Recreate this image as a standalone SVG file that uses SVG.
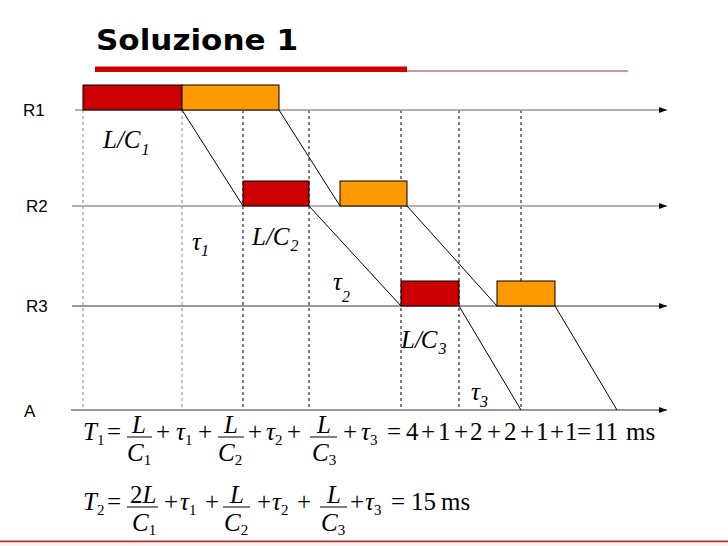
<svg xmlns="http://www.w3.org/2000/svg" width="728" height="546" viewBox="0 0 728 546">
<style>
.title{font-family:"DejaVu Sans","Liberation Sans",sans-serif;font-weight:bold;font-size:29px;fill:#000}
.lbl{font-family:"Liberation Sans",Arial,sans-serif;font-size:17px;fill:#000}
.mi{font-family:"Liberation Serif","Times New Roman",serif;font-style:italic;font-size:25px;fill:#000}
.mn{font-family:"Liberation Serif","Times New Roman",serif;font-size:25px;fill:#000}
.ms{font-family:"Liberation Serif","Times New Roman",serif;font-style:italic;font-size:16px}
.sub{font-family:"Liberation Serif","Times New Roman",serif;font-style:normal;font-size:15px}
.red{fill:#cc0000;stroke:#000;stroke-width:1}
.org{fill:#ff9900;stroke:#000;stroke-width:1}
.gdash{stroke:#999;stroke-width:1.2;stroke-dasharray:3,3;fill:none}
.kdash{stroke:#000;stroke-width:1;stroke-dasharray:3,3;fill:none}
.diag{stroke:#000;stroke-width:1;fill:none}
.bar{stroke:#000;stroke-width:1}
</style>
<defs>
<marker id="arr" markerUnits="userSpaceOnUse" markerWidth="8" markerHeight="6" refX="8" refY="3" orient="auto">
<path d="M0,0 L8,3 L0,6 z" fill="#000"/>
</marker>
</defs>
<rect width="728" height="546" fill="#fff"/>
<g id="title">
<text class="title" x="96" y="50" textLength="202" lengthAdjust="spacingAndGlyphs">Soluzione 1</text>
<rect x="95" y="66.5" width="312" height="5.5" fill="#cc0000"/>
<line x1="407" y1="71" x2="628" y2="71" stroke="#a52a2a" stroke-width="1.2"/>
</g>
<g id="footer">
<line x1="0" y1="541.5" x2="728" y2="541.5" stroke="#b03030" stroke-width="2"/>
<rect x="0" y="542.5" width="728" height="3.5" fill="#fbf1f1"/>
</g>
<g id="dashed">
<line class="gdash" x1="83" y1="110" x2="83" y2="409"/>
<line class="gdash" x1="182" y1="110" x2="182" y2="409"/>
<line class="kdash" x1="243" y1="110" x2="243" y2="410"/>
<line class="kdash" x1="309" y1="110" x2="309" y2="410"/>
<line class="kdash" x1="401" y1="110" x2="401" y2="410"/>
<line class="kdash" x1="459" y1="110" x2="459" y2="410"/>
<line class="kdash" x1="521" y1="110" x2="521" y2="410"/>
</g>
<g id="rows">
<g id="R1"><text class="lbl" x="23" y="116">R1</text><line x1="75" y1="110" x2="667" y2="110" stroke="#999" stroke-width="1.5" marker-end="url(#arr)"/></g>
<g id="R2"><text class="lbl" x="26" y="212">R2</text><line x1="72" y1="206" x2="667" y2="206" stroke="#999" stroke-width="1.5" marker-end="url(#arr)"/></g>
<g id="R3"><text class="lbl" x="26" y="312">R3</text><line x1="72" y1="306" x2="667" y2="306" stroke="#333" stroke-width="1.2" marker-end="url(#arr)"/></g>
<g id="A"><text class="lbl" x="24" y="417">A</text><line x1="71" y1="410" x2="667" y2="410" stroke="#333" stroke-width="1.2" marker-end="url(#arr)"/></g>
</g>
<g id="connectors">
<line class="diag" x1="182" y1="110" x2="243" y2="206"/>
<line class="diag" x1="279" y1="110" x2="340" y2="206"/>
<line class="diag" x1="309" y1="206" x2="401" y2="306"/>
<line class="diag" x1="407" y1="206" x2="497" y2="306"/>
<line class="diag" x1="459" y1="306" x2="521" y2="410"/>
<line class="diag" x1="555" y1="306" x2="617" y2="410"/>
</g>
<g id="packets">
<rect id="p1r1" class="red" x="83" y="85" width="99" height="25"/>
<rect id="p2r1" class="org" x="182" y="85" width="97" height="25"/>
<rect id="p1r2" class="red" x="243" y="181" width="66" height="25"/>
<rect id="p2r2" class="org" x="340" y="181" width="67" height="25"/>
<rect id="p1r3" class="red" x="401" y="281" width="58" height="25"/>
<rect id="p2r3" class="org" x="497" y="281" width="58" height="25"/>
</g>
<g id="labels">
<text id="lc1" class="mi" x="103" y="148">L<tspan dx="0">/</tspan><tspan dx="0">C</tspan><tspan class="ms" dx="1" dy="7">1</tspan></text>
<text id="tau1" class="mi" x="192" y="250">τ<tspan class="ms" dx="0" dy="6">1</tspan></text>
<text id="lc2" class="mi" x="252" y="245">L<tspan dx="0">/</tspan><tspan dx="0">C</tspan><tspan class="ms" dx="1" dy="6">2</tspan></text>
<text id="tau2" class="mi" x="333" y="290">τ<tspan class="ms" dx="0" dy="12">2</tspan></text>
<text id="lc3" class="mi" x="401" y="348">L<tspan dx="0">/</tspan><tspan dx="-1">C</tspan><tspan class="ms" dx="1" dy="6">3</tspan></text>
<text id="tau3" class="mi" x="471" y="400">τ<tspan class="ms" dx="0" dy="7">3</tspan></text>
</g>
<g id="formula1">
<text class="mi" x="83" y="440">T<tspan class="sub" dx="0" dy="5">1</tspan></text>
<text class="mn" x="107" y="440">=</text>
<text class="mi" x="139" y="433" text-anchor="middle">L</text><line class="bar" x1="127" y1="437" x2="152" y2="437"/><text class="mi" x="127" y="461">C<tspan class="sub" dx="0" dy="4">1</tspan></text>
<text class="mn" x="156" y="440">+</text>
<text class="mi" x="176" y="440">τ<tspan class="sub" dx="0" dy="5">1</tspan></text>
<text class="mn" x="198" y="440">+</text>
<text class="mi" x="231" y="433" text-anchor="middle">L</text><line class="bar" x1="218" y1="437" x2="244" y2="437"/><text class="mi" x="218" y="461">C<tspan class="sub" dx="0" dy="4">2</tspan></text>
<text class="mn" x="248" y="440">+</text>
<text class="mi" x="266" y="440">τ<tspan class="sub" dx="0" dy="5">2</tspan></text>
<text class="mn" x="287" y="440">+</text>
<text class="mi" x="324" y="433" text-anchor="middle">L</text><line class="bar" x1="310" y1="437" x2="337" y2="437"/><text class="mi" x="312" y="461">C<tspan class="sub" dx="0" dy="4">3</tspan></text>
<text class="mn" x="343" y="440">+</text>
<text class="mi" x="361" y="440">τ<tspan class="sub" dx="0" dy="5">3</tspan></text>
<text class="mn" x="387" y="440">=</text>
<text class="mn" x="406" y="440">4</text>
<text class="mn" x="421" y="440">+</text>
<text class="mn" x="438" y="440">1</text>
<text class="mn" x="454" y="440">+</text>
<text class="mn" x="470" y="440">2</text>
<text class="mn" x="487" y="440">+</text>
<text class="mn" x="504" y="440">2</text>
<text class="mn" x="520" y="440">+</text>
<text class="mn" x="536" y="440">1</text>
<text class="mn" x="550" y="440">+</text>
<text class="mn" x="565" y="440">1</text>
<text class="mn" x="577" y="440">=</text>
<text class="mn" x="594" y="440">11</text>
<text class="mn" x="626" y="440">ms</text>
</g>
<g id="formula2">
<text class="mi" x="83" y="510">T<tspan class="sub" dx="0" dy="5">2</tspan></text>
<text class="mn" x="107" y="510">=</text>
<text class="mn" x="130" y="503">2<tspan class="mi" dx="0">L</tspan></text><line class="bar" x1="127" y1="507" x2="158" y2="507"/><text class="mi" x="132" y="531">C<tspan class="sub" dx="0" dy="4">1</tspan></text>
<text class="mn" x="164" y="510">+</text>
<text class="mi" x="180" y="510">τ<tspan class="sub" dx="0" dy="5">1</tspan></text>
<text class="mn" x="205" y="510">+</text>
<text class="mi" x="237" y="503" text-anchor="middle">L</text><line class="bar" x1="223" y1="507" x2="250" y2="507"/><text class="mi" x="224" y="531">C<tspan class="sub" dx="0" dy="4">2</tspan></text>
<text class="mn" x="257" y="510">+</text>
<text class="mi" x="272" y="510">τ<tspan class="sub" dx="0" dy="5">2</tspan></text>
<text class="mn" x="297" y="510">+</text>
<text class="mi" x="334" y="503" text-anchor="middle">L</text><line class="bar" x1="320" y1="507" x2="347" y2="507"/><text class="mi" x="321" y="531">C<tspan class="sub" dx="0" dy="4">3</tspan></text>
<text class="mn" x="350" y="510">+</text>
<text class="mi" x="365" y="510">τ<tspan class="sub" dx="0" dy="5">3</tspan></text>
<text class="mn" x="391" y="510">=</text>
<text class="mn" x="411" y="510">15</text>
<text class="mn" x="441" y="510">ms</text>
</g>
</svg>
